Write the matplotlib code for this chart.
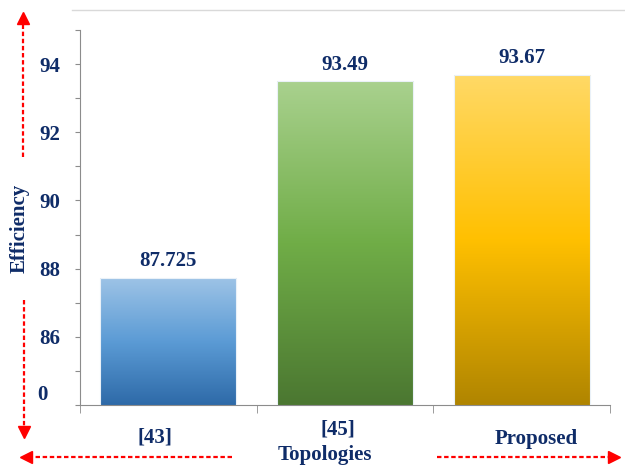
import matplotlib
matplotlib.use("Agg")
import matplotlib.pyplot as plt
import numpy as np
from matplotlib.colors import LinearSegmentedColormap
from matplotlib.lines import Line2D
from matplotlib.transforms import blended_transform_factory, ScaledTranslation

# data
categories = ["[43]", "[45]", "Proposed"]
efficiency = [87.725, 93.49, 93.67]
value_labels = ["87.725", "93.49", "93.67"]
ytick_values = [86, 88, 90, 92, 94]

# gradient colours (top, middle, bottom)
grads = [
    ["#9DC3E6", "#5B9BD5", "#2E6AA8"],
    ["#A9D18E", "#70AD47", "#4B7731"],
    ["#FFD966", "#FFC000", "#B08500"],
]

navy = "#0F2C68"
W, H = 625, 466
fs = 15

plt.rcParams["font.family"] = ["Liberation Serif", "DejaVu Serif"]
plt.rcParams["font.weight"] = "bold"

fig = plt.figure(figsize=(W / 100, H / 100), dpi=100)
ax = fig.add_axes([80 / W, 1 - 405 / H, 530 / W, 375 / H])

x = np.arange(len(categories))
bars = ax.bar(x, efficiency, width=0.77, bottom=0, color="none",
              edgecolor="#EAF1F8", linewidth=0.8, zorder=3)

ymin, ymax = 84, 95

# gradient fill clipped to each bar
for bar, cols in zip(bars, grads):
    cmap = LinearSegmentedColormap.from_list("g", cols[::-1])
    bx = bar.get_x()
    bw = bar.get_width()
    top = bar.get_height()
    grad = np.linspace(0, 1, 256).reshape(-1, 1)
    im = ax.imshow(grad, extent=(bx, bx + bw, ymin, top), origin="lower",
                   aspect="auto", cmap=cmap, zorder=2)
    im.set_clip_path(bar)
ax.set_xlim(-0.5, 2.5)
ax.set_ylim(ymin, ymax)

# value labels
for xi, v, s in zip(x, efficiency, value_labels):
    ax.annotate(s, (xi, v), xytext=(0, 5), textcoords="offset points",
                ha="center", va="bottom", fontsize=fs, color=navy,
                fontweight="bold")

# spines
for s in ["top", "right"]:
    ax.spines[s].set_visible(False)
ax.spines["left"].set_color("#8C8C8C")
ax.spines["bottom"].set_color("#8C8C8C")

# y ticks
ax.set_yticks(np.arange(84, 96, 1))
ax.set_yticklabels([str(t) if t in ytick_values else "" for t in range(84, 96)])
ax.tick_params(axis="y", length=3.5, color="#8C8C8C", pad=11,
               labelsize=fs, labelcolor=navy)
trans = blended_transform_factory(ax.transAxes, ax.transData)
ax.text(-0.07, 84.3, "0", transform=trans, ha="center", va="center",
        fontsize=fs, color=navy, fontweight="bold")

# x ticks
ax.set_xticks(x)
ax.set_xticklabels(categories)
ax.set_xticks([-0.5, 0.5, 1.5, 2.5], minor=True)
ax.tick_params(axis="x", which="major", length=0, pad=16,
               labelsize=fs, labelcolor=navy)
ax.tick_params(axis="x", which="minor", length=6, color="#8C8C8C")
shifts = [(-13, 0), (-7, 8), (15, -2)]
for lab, (dx, dy) in zip(ax.get_xticklabels(), shifts):
    lab.set_transform(lab.get_transform() +
                      ScaledTranslation(dx / 100, dy / 100, fig.dpi_scale_trans))

# axis titles
fig.text(20 / W, 1 - 228 / H, "Efficiency", rotation=90, ha="center",
         va="center", fontsize=fs, color=navy, fontweight="bold")
fig.text(325 / W, 1 - 455 / H, "Topologies", ha="center", va="center",
         fontsize=fs, color=navy, fontweight="bold")

# top border line
fig.add_artist(Line2D([72 / W, 1], [1 - 10 / H, 1 - 10 / H],
                      transform=fig.transFigure, color="#D9D9D9", lw=1))

# red dashed arrows
def red_arrow(x0, y0, x1, y1, marker):
    fig.add_artist(Line2D([x0 / W, x1 / W], [1 - y0 / H, 1 - y1 / H],
                          transform=fig.transFigure, color="#FF0000",
                          lw=1.6, linestyle=(0, (2, 1.2))))
    fig.add_artist(Line2D([x1 / W], [1 - y1 / H], transform=fig.transFigure,
                          marker=marker, color="#FF0000", markersize=8,
                          lw=0))

red_arrow(23, 157, 23, 18, "^")
red_arrow(24, 300, 24, 432, "v")
red_arrow(232, 457, 26, 457, "<")
red_arrow(437, 457, 614, 457, ">")

fig.savefig("out.png", dpi=100, facecolor="white")
